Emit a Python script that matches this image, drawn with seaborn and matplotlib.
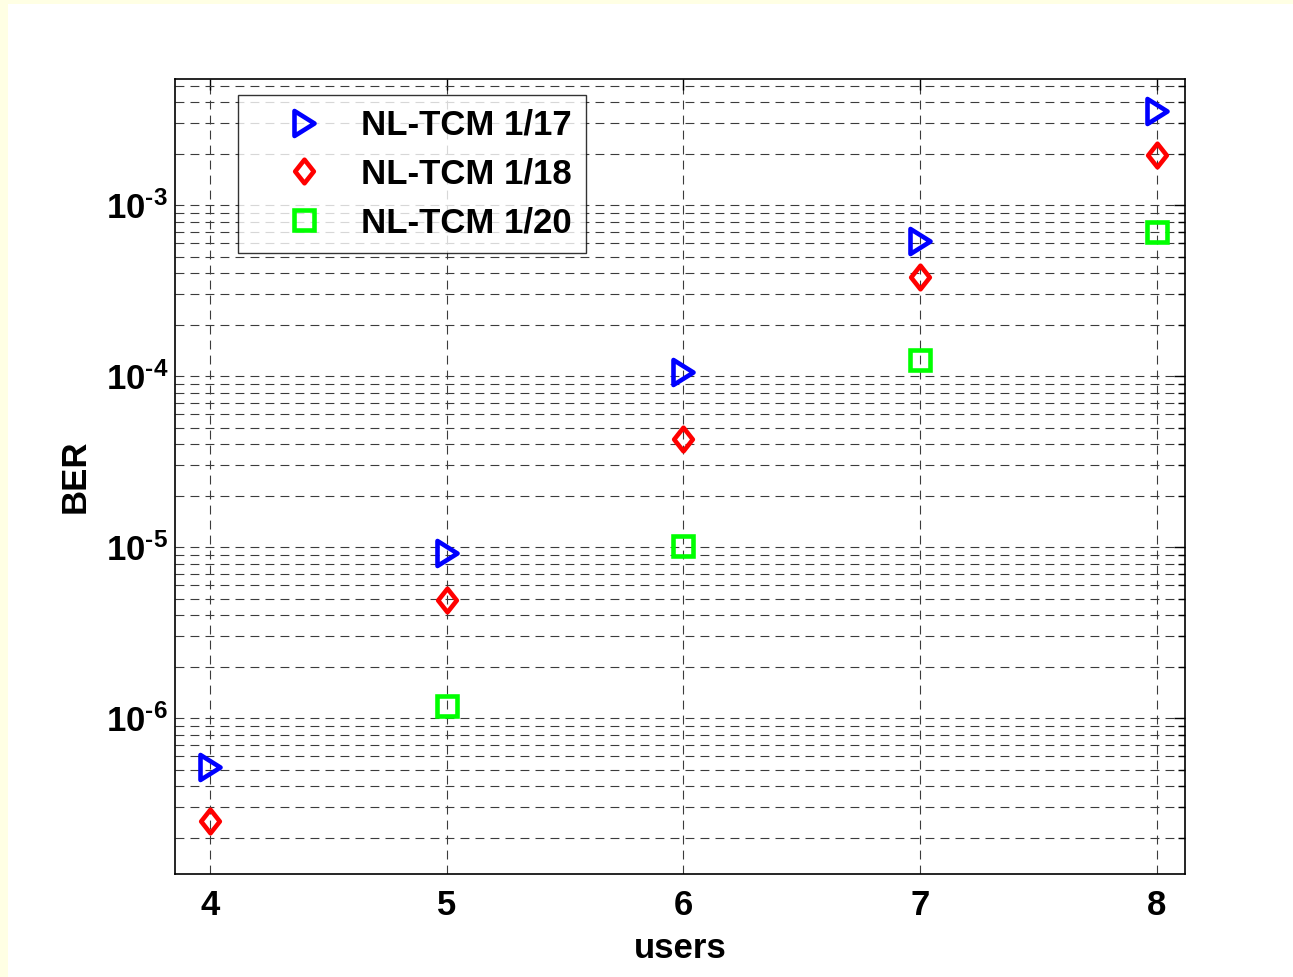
import numpy as np
import pandas as pd
import seaborn as sns
import matplotlib.pyplot as plt
import matplotlib.path as mpath
import matplotlib.ticker as mticker
from matplotlib.patches import Rectangle

# BER vs number of users
users_17 = [4, 5, 6, 7, 8]
ber_17 = [5.2e-7, 9.2e-6, 1.05e-4, 6.15e-4, 3.55e-3]
users_18 = [4, 5, 6, 7, 8]
ber_18 = [2.5e-7, 4.9e-6, 4.28e-5, 3.8e-4, 1.96e-3]
users_20 = [5, 6, 7, 8]
ber_20 = [1.17e-6, 1.01e-5, 1.24e-4, 6.95e-4]
labels = ['NL-TCM 1/17', 'NL-TCM 1/18', 'NL-TCM 1/20']
xticks = [4, 5, 6, 7, 8]
yticks = [1e-6, 1e-5, 1e-4, 1e-3]
ytick_labels = [r'$10^{\text{-}6}$', r'$10^{\text{-}5}$', r'$10^{\text{-}4}$', r'$10^{\text{-}3}$']

FS = 25

sns.set_style('white')
plt.rcParams['font.family'] = ['Liberation Sans', 'DejaVu Sans']
plt.rcParams['font.weight'] = 'bold'
plt.rcParams['text.color'] = 'black'
plt.rcParams['axes.labelcolor'] = 'black'
plt.rcParams['xtick.color'] = 'black'
plt.rcParams['ytick.color'] = 'black'
plt.rcParams['mathtext.fontset'] = 'custom'
plt.rcParams['mathtext.rm'] = 'Liberation Sans:bold'
plt.rcParams['mathtext.it'] = 'Liberation Sans:bold'
plt.rcParams['mathtext.bf'] = 'Liberation Sans:bold'

# matlab-ish markers
tri = mpath.Path([(-0.8, -1), (0.8, 0), (-0.8, 1), (-0.8, -1)], closed=True)
dia = mpath.Path([(0, 1), (0.79, 0), (0, -1), (-0.79, 0), (0, 1)], closed=True)

fig = plt.figure(figsize=(12.93, 9.77), dpi=100, facecolor='#FFFFE4')
fig.patches.append(Rectangle((8 / 1293, 0), 1, 1 - 4 / 977, transform=fig.transFigure,
                             facecolor='white', edgecolor='none', zorder=-1))
ax = fig.add_axes([175 / 1293, 1 - 874 / 977, (1184.5 - 175) / 1293, (874 - 79) / 977])

series = [(users_17, ber_17, tri, 18.0, '#0000FF'),
          (users_18, ber_18, dia, 17.0, '#FF0000'),
          (users_20, ber_20, 's', 14.5, '#00FF00')]
for (xs, ys, mk, ms, c), lab in zip(series, labels):
    df = pd.DataFrame({'users': xs, 'BER': ys})
    sns.lineplot(data=df, x='users', y='BER', ax=ax, linestyle='none', marker=mk,
                 markersize=ms, markerfacecolor='none', markeredgecolor=c,
                 markeredgewidth=3.3, color=c, label=lab, zorder=3)

ax.set_yscale('log')
ax.set_xlim(3.853, 8.117)
ax.set_ylim(1.225e-7, 5.46e-3)
ax.set_xticks(xticks)
ax.set_xticklabels([str(v) for v in xticks])
ax.yaxis.set_major_locator(mticker.FixedLocator(yticks))
ax.yaxis.set_major_formatter(mticker.FixedFormatter(ytick_labels))
ax.yaxis.set_minor_locator(mticker.LogLocator(base=10, subs=np.arange(2, 10), numticks=20))
ax.yaxis.set_minor_formatter(mticker.NullFormatter())

ax.tick_params(axis='both', which='both', direction='in', top=True, right=True,
               labelsize=FS, width=1, color='black')
ax.tick_params(axis='both', which='major', length=8)
ax.tick_params(axis='y', which='minor', length=5)
ax.tick_params(axis='x', which='major', pad=11)
ax.tick_params(axis='y', which='major', pad=5)

grid_kw = dict(color='#3c3c3c', linewidth=0.8, linestyle=(0, (8, 5.5)))
ax.grid(True, axis='x', which='major', **grid_kw)
ax.grid(True, axis='y', which='both', **grid_kw)
ax.set_axisbelow(True)
for s in ax.spines.values():
    s.set_color('black')
    s.set_linewidth(1.2)

ax.set_xlabel('users', fontsize=FS, fontweight='bold', labelpad=7)
ax.set_ylabel('BER', fontsize=FS, fontweight='bold', labelpad=10)

leg = ax.legend(loc='upper left', bbox_to_anchor=((238 - 175) / 1009.5, (874 - 95) / 795),
                borderaxespad=0, frameon=True, fancybox=False,
                handlelength=3.0, handletextpad=0.15, labelspacing=0.45, borderpad=0.4,
                prop={'weight': 'bold', 'size': FS})
leg.get_frame().set_edgecolor('black')
leg.get_frame().set_linewidth(1.0)

fig.savefig('out.png', dpi=100, facecolor=fig.get_facecolor())
